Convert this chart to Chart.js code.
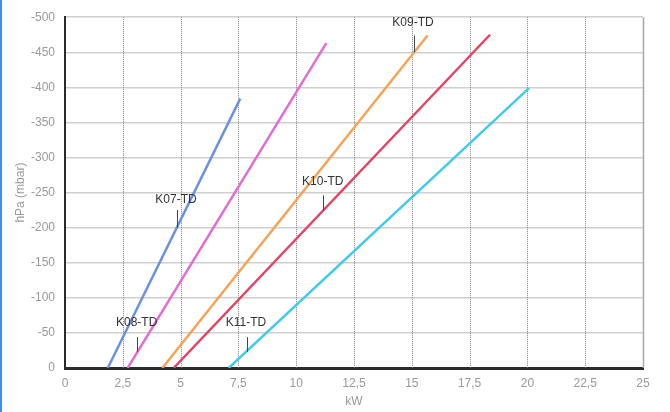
<!DOCTYPE html>
<html>
<head>
<meta charset="utf-8">
<script src="https://cdn.jsdelivr.net/npm/chart.js@4"></script>
<style>
  html, body { margin: 0; padding: 0; background: #fff; }
  #wrap { position: relative; width: 670px; height: 412px; }
  #edge { position: absolute; left: 0; top: 0; width: 2px; height: 412px; background: #4a8ee0; }
  canvas { position: absolute; left: 0; top: 0; }
</style>
</head>
<body>
<div id="wrap">
  <canvas id="c" width="670" height="412"></canvas>
  <div id="edge"></div>
</div>
<script>
// ---- data (kW vs hPa) ----
const seriesNames = ['K07-TD', 'K08-TD', 'K09-TD', 'K10-TD', 'K11-TD'];
const k07 = [{x: 1.85, y: 0}, {x: 7.58, y: -384}];
const k08 = [{x: 2.71, y: 0}, {x: 11.3, y: -463}];
const k09 = [{x: 4.21, y: 0}, {x: 15.68, y: -474}];
const k10 = [{x: 4.70, y: 0}, {x: 18.38, y: -475}];
const k11 = [{x: 7.08, y: 0}, {x: 20.07, y: -399}];
const seriesColors = ['#6b93dc', '#de6fd3', '#f3a45a', '#de4666', '#45c9e6'];

const xTicks = [0, 2.5, 5, 7.5, 10, 12.5, 15, 17.5, 20, 22.5, 25];
const yTicks = [-500, -450, -400, -350, -300, -250, -200, -150, -100, -50, 0];

// label annotations: text position and leader line (data units)
const labelText = ['K07-TD', 'K08-TD', 'K09-TD', 'K10-TD', 'K11-TD'];
const labelX    = [4.8, 3.1, 15.05, 11.15, 7.83];
const labelY    = [-240, -64, -492, -265, -64];
const leaderX   = [4.83, 3.13, 15.08, 11.18, 7.86];
const leaderY1  = [-225, -44, -474, -246, -44];
const leaderY2  = [-200, -23, -450, -225, -23];

const FONT = '"Liberation Sans", Arial, sans-serif';

const vGridPlugin = {
  id: 'vgrid',
  beforeDatasetsDraw(chart) {
    const {ctx, chartArea, scales} = chart;
    ctx.save();
    xTicks.forEach(v => {
      if (v === 0) return;
      const px = Math.round(scales.x.getPixelForValue(v)) + 0.5;
      ctx.beginPath();
      ctx.lineWidth = 1;
      if (v === 25) { ctx.setLineDash([]); ctx.strokeStyle = '#a8a8a8'; ctx.lineWidth = 1.5; }
      else { ctx.setLineDash([1, 1]); ctx.strokeStyle = '#808080'; }
      ctx.moveTo(px, chartArea.top);
      ctx.lineTo(px, chartArea.bottom);
      ctx.stroke();
    });
    ctx.restore();
  }
};

const labelPlugin = {
  id: 'labels',
  afterDatasetsDraw(chart) {
    const {ctx, scales} = chart;
    ctx.save();
    ctx.font = '12px ' + FONT;
    ctx.fillStyle = '#333';
    ctx.textAlign = 'center';
    ctx.textBaseline = 'middle';
    labelText.forEach((t, i) => {
      ctx.fillText(t, scales.x.getPixelForValue(labelX[i]), scales.y.getPixelForValue(labelY[i]));
      const lx = Math.round(scales.x.getPixelForValue(leaderX[i])) + 0.5;
      ctx.beginPath();
      ctx.strokeStyle = '#444';
      ctx.lineWidth = 1;
      ctx.moveTo(lx, scales.y.getPixelForValue(leaderY1[i]));
      ctx.lineTo(lx, scales.y.getPixelForValue(leaderY2[i]));
      ctx.stroke();
    });
    ctx.restore();
  }
};

const allData = [k07, k08, k09, k10, k11];

new Chart(document.getElementById('c'), {
  type: 'scatter',
  data: {
    datasets: allData.map((d, i) => ({
      label: seriesNames[i],
      data: d,
      showLine: true,
      borderColor: seriesColors[i],
      backgroundColor: seriesColors[i],
      borderWidth: 2.5,
      pointRadius: 0,
      tension: 0
    }))
  },
  plugins: [vGridPlugin, labelPlugin],
  options: {
    responsive: false,
    animation: false,
    layout: { padding: { top: 17, right: 27, left: 0, bottom: 0 } },
    plugins: { legend: { display: false }, tooltip: { enabled: false } },
    scales: {
      x: {
        type: 'linear', min: 0, max: 25,
        afterBuildTicks: s => { s.ticks = xTicks.map(v => ({value: v})); },
        afterFit: s => { s.height = 44; },
        ticks: {
          callback: v => String(v).replace('.', ','),
          color: '#999', font: { size: 12, family: FONT }, padding: 8,
          maxRotation: 0, autoSkip: false
        },
        grid: { color: 'rgba(0,0,0,0)', drawTicks: false },
        border: { color: '#2a2a2a', width: 3 },
        title: { display: true, text: 'kW', color: '#999', font: { size: 12, family: FONT }, padding: { top: 0, bottom: 3 } }
      },
      y: {
        type: 'linear', min: -500, max: 0, reverse: true,
        afterBuildTicks: s => { s.ticks = yTicks.map(v => ({value: v})); },
        afterFit: s => { s.width = 65; },
        ticks: { color: '#999', font: { size: 12, family: FONT }, padding: 10, autoSkip: false },
        grid: { color: '#cfcfcf', lineWidth: 1.5, drawTicks: false },
        border: { color: '#2a2a2a', width: 2 },
        title: { display: true, text: 'hPa (mbar)', color: '#999', font: { size: 12, family: FONT }, padding: { top: 13, bottom: 0 } }
      }
    }
  }
});
</script>
</body>
</html>
